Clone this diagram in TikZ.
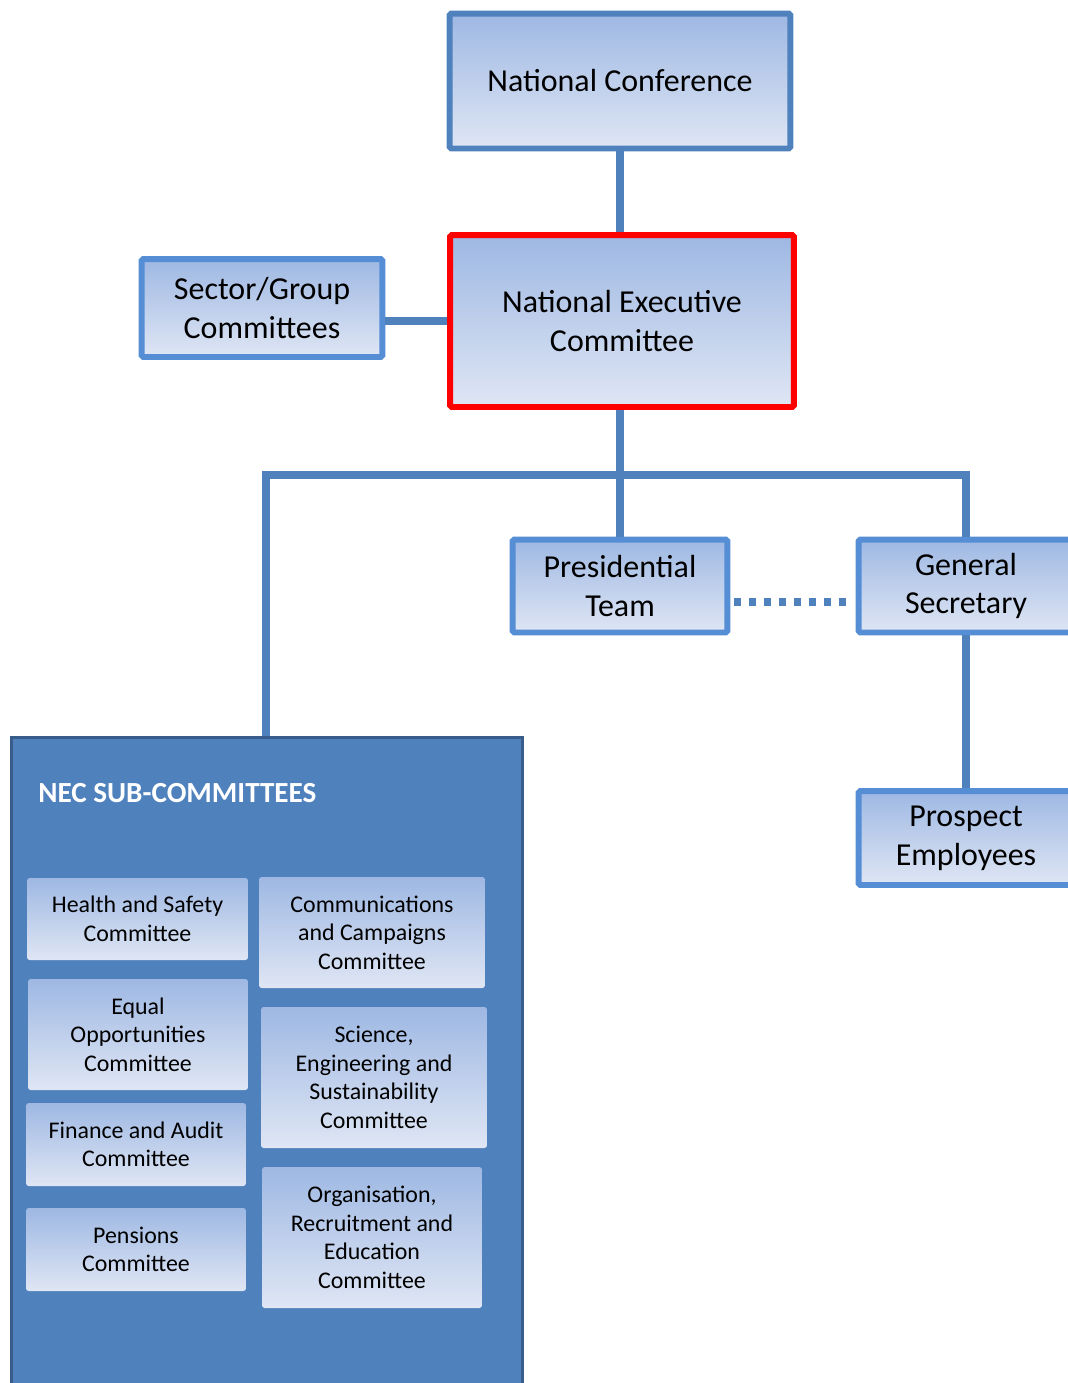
\documentclass[tikz,border=0pt]{standalone}
\usepackage{fontspec}
\setmainfont{Carlito}
\usetikzlibrary{positioning}
\definecolor{LineBlue}{RGB}{79,129,189}
\definecolor{BoxBlue}{RGB}{85,142,213}
\definecolor{TopFill}{RGB}{158,184,227}
\definecolor{BotFill}{RGB}{223,230,244}
\definecolor{PanelEdge}{RGB}{56,93,138}
\definecolor{NecRed}{RGB}{255,0,0}

\tikzset{
  mainbox/.style={draw=BoxBlue, line width=3.4pt, rounded corners=1pt, top color=TopFill, bottom color=BotFill, text=black, align=center, inner sep=0pt, font=\fontsize{18.2pt}{22pt}\selectfont},
  subbox/.style={top color=TopFill, bottom color=BotFill, rounded corners=1.5pt, text=black, align=center, inner sep=0pt, font=\fontsize{13.6pt}{16.2pt}\selectfont},
  link/.style={draw=LineBlue, line width=4pt}
}

\begin{document}
\begin{tikzpicture}[x=0.02cm, y=-0.02cm]
\useasboundingbox (0,0) rectangle (1068,1383);

\node[mainbox, draw=LineBlue, minimum width=6.82cm, minimum height=2.7cm] (nc) at (620,81) {National Conference};

\node[mainbox, draw=NecRed, minimum width=6.88cm, minimum height=3.44cm] (nec) at (622,321) {National Executive\\Committee};

\node[mainbox, minimum width=4.82cm, minimum height=1.96cm] (sector) at (262,308) {Sector/Group\\Committees};

\node[mainbox, minimum width=4.3cm, minimum height=1.86cm] (pres) at (620,586) {Presidential\\Team};

\node[mainbox, minimum width=4.3cm, minimum height=1.86cm] (gs) at (966,586) {General\\Secretary};

\node[mainbox, minimum width=4.3cm, minimum height=1.88cm] (prospect) at (966,838) {Prospect\\Employees};

\node[draw=PanelEdge, fill=LineBlue, line width=1.7pt, minimum width=10.24cm, minimum height=13.5cm, inner sep=0pt] (panel) at (267,1075) {};

\node[anchor=west, inner sep=0pt, text=white, font=\fontsize{16.6pt}{19pt}\selectfont\bfseries] (title) at (38,793) {NEC SUB-COMMITTEES};

\node[subbox, minimum width=4.42cm, minimum height=1.64cm] (health) at (137.5,919) {Health and Safety\\Committee};
\node[subbox, minimum width=4.52cm, minimum height=2.22cm] (comms) at (372,932.5) {Communications\\and Campaigns\\Committee};
\node[subbox, minimum width=4.4cm, minimum height=2.22cm] (equal) at (138,1034.5) {Equal\\Opportunities\\Committee};
\node[subbox, minimum width=4.52cm, minimum height=2.82cm] (science) at (374,1077.5) {Science,\\Engineering and\\Sustainability\\Committee};
\node[subbox, minimum width=4.4cm, minimum height=1.66cm] (finance) at (136,1144.5) {Finance and Audit\\Committee};
\node[subbox, minimum width=4.4cm, minimum height=1.66cm] (pensions) at (136,1249.5) {Pensions\\Committee};
\node[subbox, minimum width=4.4cm, minimum height=2.82cm] (org) at (372,1237.5) {Organisation,\\Recruitment and\\Education\\Committee};

\coordinate (busL) at (266,475);
\coordinate (busR) at (966,475);

\draw[link] (nc.south) to (nc.south |- nec.north);
\draw[link] (nec.west) to (nec.west -| sector.east);
\draw[link] (pres.north) to (pres.north |- nec.south);
\draw[link] (panel.north -| busL) -- (busL) -- (busR) -- (gs.north);
\draw[link] (gs.south) to (prospect.north);
\draw[link, dash pattern=on 0.14cm off 0.16cm, shorten <=2pt, shorten >=1pt] ([yshift=-0.32cm]pres.east) to ([yshift=-0.32cm]gs.west);

\end{tikzpicture}
\end{document}
